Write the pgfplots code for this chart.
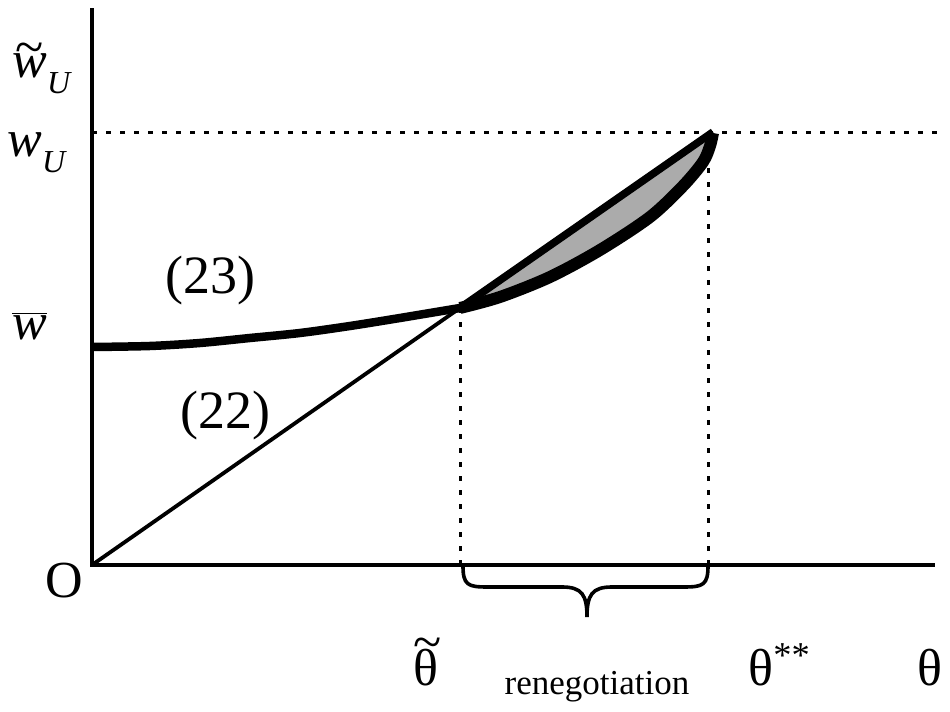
\documentclass[border=0pt]{standalone}
\usepackage{pgfplots}
\pgfplotsset{compat=1.18}
\usepackage{fontspec}
\setmainfont{Liberation Serif}
\newcommand{\tl}[2]{\ooalign{\hfil\raisebox{#2}{\textasciitilde}\hfil\cr #1\cr}}
\newcommand{\bigf}{\fontsize{26}{30}\selectfont}
\newcommand{\sub}[1]{\raisebox{-8pt}{\fontsize{16}{16}\selectfont\itshape #1}}
\begin{document}
\begin{tikzpicture}
\begin{axis}[hide axis, scale only axis, width=475pt, height=356pt,
  xmin=-92, xmax=858, ymin=-147, ymax=565, clip=false]
\path (axis cs:-92,-147) rectangle (axis cs:858,565);
% shaded lens
\addplot[fill=black!33, draw=none] coordinates {(368,257) (621,433) (618,419) (611,403) (591,379) (558,348) (508,315) (458,288) (408,268) (368,257)} -- cycle;
% dotted guides
\addplot[black, line width=1.5pt, dash pattern=on 2.5pt off 4.5pt] coordinates {(0,432) (853,432)};
\addplot[black, line width=1.5pt, dash pattern=on 2.5pt off 4.5pt] coordinates {(368,0) (368,257)};
\addplot[black, line width=1.5pt, dash pattern=on 2.5pt off 4.5pt] coordinates {(616,0) (616,405)};
% curve (23)
\addplot[black, line width=4.25pt, smooth] coordinates {(0,218) (58,219) (108,222) (158,227) (208,232) (258,239) (308,247) (368,257)};
\addplot[black, line width=6pt, smooth] coordinates {(368,257) (408,268) (458,288) (508,315) (558,348) (591,379) (611,403) (618,419) (621,432)};
% line (22)
\addplot[black, line width=1.9pt] coordinates {(0,0) (368,257)};
\addplot[black, line width=3.8pt] coordinates {(368,257) (621,433)};
% axes
\addplot[black, line width=2.25pt] coordinates {(0,-2) (0,557)};
\addplot[black, line width=2.25pt] coordinates {(-1,0) (843,0)};
% brace
\draw[line width=1.8pt] (axis cs:371,-1) .. controls (axis cs:371,-20) and (axis cs:376,-22) .. (axis cs:395,-22) -- (axis cs:470,-22) .. controls (axis cs:490,-22) and (axis cs:495,-30) .. (axis cs:495,-52) .. controls (axis cs:495,-30) and (axis cs:500,-22) .. (axis cs:520,-22) -- (axis cs:592,-22) .. controls (axis cs:611,-22) and (axis cs:616,-20) .. (axis cs:616,-1);
% labels
\node[anchor=base west, inner sep=0pt] at (axis cs:-80,487) {\bigf\tl{\itshape w}{0.25em}\sub{U}};
\node[anchor=base west, inner sep=0pt] at (axis cs:-85,408) {\bigf\textit{w}\sub{U}};
\node[anchor=base west, inner sep=0pt] at (axis cs:-80,225) {\bigf$\overline{\hbox{\itshape w}}$};
\node[anchor=base, inner sep=0pt] at (axis cs:118,271) {\fontsize{27}{30}\selectfont (23)};
\node[anchor=base, inner sep=0pt] at (axis cs:133,136) {\fontsize{27}{30}\selectfont (22)};
\node[anchor=base, inner sep=0pt] at (axis cs:-28,-33) {\bigf O};
\node[anchor=base, inner sep=0pt] at (axis cs:336,-121) {\bigf\tl{θ}{0.5em}};
\node[anchor=base, inner sep=0pt] at (axis cs:505,-130) {\fontsize{17.5}{22}\selectfont renegotiation};
\node[anchor=base west, inner sep=0pt] at (axis cs:656,-121) {\bigf θ\textsuperscript{**}};
\node[anchor=base, inner sep=0pt] at (axis cs:838,-121) {\bigf θ};
\end{axis}
\end{tikzpicture}
\end{document}
